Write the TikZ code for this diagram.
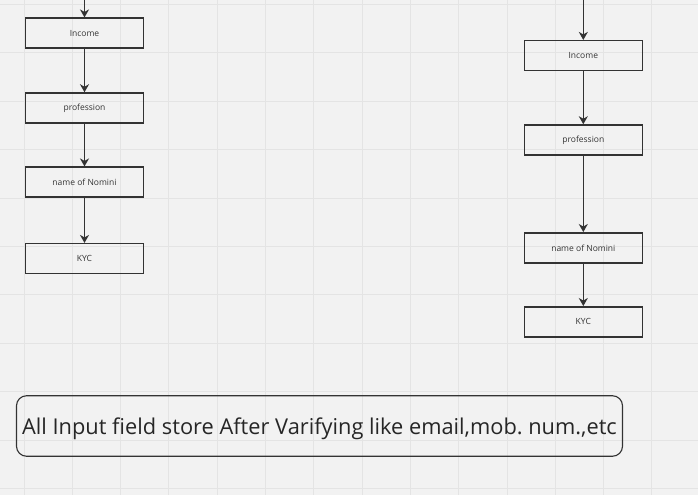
\documentclass[tikz,border=0pt]{standalone}
\usepackage{fontspec}
\setmainfont{Open Sans}
\usepackage{tikz}
\usetikzlibrary{arrows.meta,positioning}

\definecolor{boardbg}{HTML}{F2F2F2}
\definecolor{gridgray}{HTML}{E4E4E4}
\definecolor{inkgray}{HTML}{333333}
\frenchspacing

\begin{document}
\begin{tikzpicture}[
    x=1pt, y=-1pt,
    block/.style={rectangle, draw=inkgray, line width=1.5pt, minimum width=118pt, minimum height=30pt, inner sep=0pt, align=center, font=\fontsize{8.5}{9}\selectfont, text=inkgray},
    note/.style={rectangle, rounded corners=10pt, draw=inkgray, line width=1.1pt, minimum width=606pt, minimum height=60.5pt, inner sep=0pt, font=\fontsize{21.8}{26}\selectfont, text=black!85},
    arrow/.style={-{Stealth[length=8pt,width=9pt,inset=2.5pt]}, line width=1.5pt, draw=inkgray},
    gridline/.style={draw=gridgray, line width=1pt}
]
\useasboundingbox (0,0) rectangle (698,495);
\fill[boardbg] (0,0) rectangle (698,495);
% Raster
\foreach \i in {0,...,14} \draw[gridline] ({24+48.3*\i},0) -- ({24+48.3*\i},495);
\foreach \j in {0,...,10} \draw[gridline] (0,{4.5+48.4*\j}) -- (698,{4.5+48.4*\j});

% linke Spalte
\coordinate (ltop) at (84.5,0);
\node[block] (lincome) at (84.5,33.2) {Income};
\node[block, below=43.3pt of lincome] (lprof) {profession};
\node[block, below=42.7pt of lprof] (lnom) {name of Nomini};
\node[block, below=45pt of lnom] (lkyc) {KYC};

% rechte Spalte
\coordinate (rtop) at (583.3,0);
\node[block] (rincome) at (583.3,55.7) {Income};
\node[block, below=52.8pt of rincome] (rprof) {profession};
\node[block, below=76.3pt of rprof] (rnom) {name of Nomini};
\node[block, below=42.5pt of rnom] (rkyc) {KYC};

% Pfeile
\draw[arrow] (ltop) -- (lincome);
\draw[arrow] (lincome) -- (lprof);
\draw[arrow] (lprof) -- (lnom);
\draw[arrow] (lnom) -- (lkyc);
\draw[arrow] (rtop) -- (rincome);
\draw[arrow] (rincome) -- (rprof);
\draw[arrow] (rprof) -- (rnom);
\draw[arrow] (rnom) -- (rkyc);

% Hinweis
\node[note] (store) at (319.5,426) {\raisebox{-8.5pt}[0pt][0pt]{All Input field store After Varifying like email,mob. num.,etc}};
\end{tikzpicture}
\end{document}
